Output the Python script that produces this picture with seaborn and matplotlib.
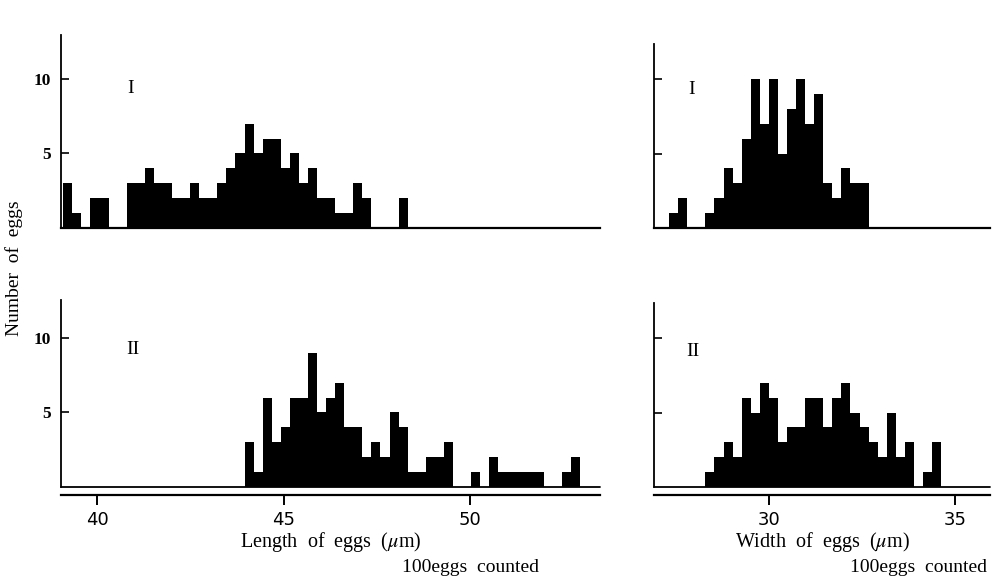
import numpy as np
import pandas as pd
import matplotlib
matplotlib.use('Agg')
import matplotlib.pyplot as plt
import seaborn as sns

# class width of the measurements (um) and the lower bound of the first class
BIN_W = 0.243
len_start = 39.09
wid_start = 27.33

# counts per class, 100 eggs each
length_I = [3, 1, 0, 2, 2, 0, 0, 3, 3, 4, 3, 3, 2, 2, 3, 2, 2, 3, 4, 5,
            7, 5, 6, 6, 4, 5, 3, 4, 2, 2, 1, 1, 3, 2, 0, 0, 0, 2]
length_II_offset = 20
length_II = [3, 1, 6, 3, 4, 6, 6, 9, 5, 6, 7, 4, 4, 2, 3, 2, 5, 4, 1, 1,
             2, 2, 3, 0, 0, 1, 0, 2, 1, 1, 1, 1, 1, 0, 0, 1, 2]
width_I = [1, 2, 0, 0, 1, 2, 4, 3, 6, 10, 7, 10, 5, 8, 10, 7, 9, 3, 2, 4, 3, 3]
width_II_offset = 4
width_II = [1, 2, 3, 2, 6, 5, 7, 6, 3, 4, 4, 6, 6, 4, 6, 7, 5, 4, 3, 2,
            5, 2, 3, 0, 1, 3]

len_ticks = [40, 45, 50]
wid_ticks = [30, 35]

sns.set_style('ticks')
plt.rcParams['font.family'] = ['Liberation Serif', 'DejaVu Serif']
plt.rcParams['mathtext.fontset'] = 'stix'
for key in ['text.color', 'axes.labelcolor', 'xtick.color', 'ytick.color',
            'axes.edgecolor']:
    plt.rcParams[key] = 'black'

W, H = 992, 581
fig = plt.figure(figsize=(W / 100, H / 100), dpi=100)


def add_ax(x0, y0, x1, y1):
    return fig.add_axes([x0 / W, 1 - y1 / H, (x1 - x0) / W, (y1 - y0) / H])


def panel(ax, start, counts, xlim, ymax, roman, rpos, ylabels, bottom,
          ticks=None, xlabel=None):
    edges = start + BIN_W * np.arange(len(counts) + 1)
    # one row per egg, at the middle of its class
    eggs = pd.DataFrame({'size': np.repeat(edges[:-1] + BIN_W / 2, counts)})
    sns.histplot(data=eggs, x='size', bins=list(edges), color='black',
                 edgecolor='black', linewidth=0, antialiased=False, alpha=1,
                 ax=ax)
    ax.set_xlim(xlim)
    ax.set_ylim(0, ymax)
    ax.set_ylabel('')
    ax.set_yticks([5, 10])
    ax.set_yticklabels(['5', '10'] if ylabels else ['', ''],
                       fontweight='bold')
    ax.tick_params(axis='y', direction='in', length=6, width=1.2, pad=7,
                   labelsize=12.5)
    ax.spines['top'].set_visible(False)
    ax.spines['right'].set_visible(False)
    ax.spines['left'].set_linewidth(1.3)
    ax.spines['bottom'].set_linewidth(1.6)
    ax.text(rpos[0], rpos[1], roman, transform=ax.transAxes, fontsize=14,
            ha='center', va='center')
    if bottom:
        ax.spines['bottom'].set_position(('outward', 6))
        ax.axhline(0, color='black', lw=1.3, clip_on=False)
        ax.set_xticks(ticks)
        ax.tick_params(axis='x', direction='out', length=7, width=1.4,
                       pad=4, labelsize=13)
        for t in ax.get_xticklabels():
            t.set_family('Liberation Sans Narrow')
        ax.set_xlabel(xlabel, fontsize=14.5, labelpad=1)
    else:
        ax.set_xticks([])
        ax.set_xlabel('')


ax1 = add_ax(61, 35, 600, 228)
panel(ax1, len_start, length_I, (39.03, 53.48), 12.95, 'I', (0.13, 0.725),
      True, False)

ax2 = add_ax(654, 44, 990, 228)
panel(ax2, wid_start, width_I, (26.925, 35.93), 12.35, 'I', (0.113, 0.75),
      False, False)

ax3 = add_ax(61, 300, 600, 487)
panel(ax3, len_start + BIN_W * length_II_offset, length_II, (39.03, 53.48),
      12.55, 'II', (0.134, 0.733), True, True, len_ticks,
      'Length  of  eggs  ($\\mu$m)')

ax4 = add_ax(654, 303, 990, 487)
panel(ax4, wid_start + BIN_W * width_II_offset, width_II, (26.925, 35.93),
      12.35, 'II', (0.116, 0.734), False, True, wid_ticks,
      'Width  of  eggs  ($\\mu$m)')

fig.text(14 / W, 1 - 268 / H, 'Number  of  eggs', rotation=90, fontsize=14,
         ha='center', va='center')
fig.text(470 / W, 1 - 568 / H, '100eggs  counted', fontsize=14,
         ha='center', va='center')
fig.text(918 / W, 1 - 568 / H, '100eggs  counted', fontsize=14,
         ha='center', va='center')

fig.savefig('out.png', dpi=100)
